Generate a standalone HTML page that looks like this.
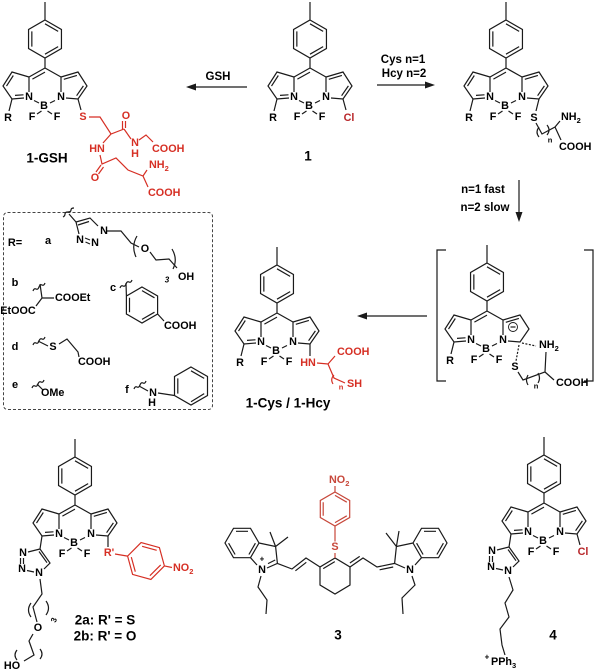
<!DOCTYPE html>
<html><head><meta charset="utf-8">
<style>
html,body{margin:0;padding:0;background:#fff;}
svg{display:block;}
text{font-family:"Liberation Sans",Arial,sans-serif;font-weight:bold;dominant-baseline:central;text-anchor:middle;}
.a{font-size:10.8px;}
.s{text-anchor:start;}
.rd{fill:#d62f24;}
.rb{fill:#c7473a;}
.cl{fill:#b8262a;}
.lab{font-size:13.5px;}
.arl{font-size:11.5px;}
.ln{fill:none;stroke:#1a1a1a;stroke-width:1.2;}
.lr{fill:none;stroke:#d62f24;stroke-width:1.2;}
.lb{fill:none;stroke:#c7473a;stroke-width:1.2;}
</style></head><body>
<svg width="600" height="671" viewBox="0 0 600 671" xmlns="http://www.w3.org/2000/svg">
<defs>
<g id="core" fill="none" stroke="#1a1a1a" stroke-width="1.2">
<path d="M0,-66V-48 M0,-48 L16.45,-38.5 L16.45,-19.5 L0,-10 L-16.45,-19.5 L-16.45,-38.5Z M-13.16,-36.6 L-13.16,-21.4 M0,-44.2 L13.16,-36.6 M13.16,-21.4 L0,-13.8 M0,-10V0 M0,0 L-16,9 M0,4.1 L-12.6,11.1 M0,0 L16,9 M-16,9 V24 M16,9 V24 M-11,32.5 L-6,35 M5,35 L10,32.5 M-3.5,43 L-8,46 M2.5,43 L7,46 M-16,9 L-33,4 L-42,18 L-33,31 L-21,30 M-31.7,7.5 L-38.5,18.1 M-30,27.4 L-21.5,26.8 M16,9 L33,4 L42,18 L33,31 L21,30 M18.8,11.3 L31.9,7.4"/>
</g>
<g id="tri" fill="none" stroke="#1a1a1a" stroke-width="1.2">
<path d="M-33,31 L-35,44 L-25,58 L-31,64 M-36,46.5 L-28,57.7 M-41,67 L-48,65.5 M-54.5,53 V59 M-51.5,53 V59 M-47,47 L-35,44"/>
</g>
</defs>

<!-- ===== Compound 1-GSH (meso 45,68) ===== -->
<use href="#core" transform="translate(45,68)"/>
<path class="ln" d="M83.4,85.9 L76.6,95.7 M12,99 L9,111 M78,99 L81,110"/>
<text class="a" x="29" y="97">N</text><text class="a" x="61" y="97">N</text><text class="a" x="44" y="106">B</text>
<text class="a" x="32" y="117">F</text><text class="a" x="57" y="117">F</text><text class="a" x="8" y="118">R</text>
<text class="a rd" x="83" y="117">S</text>
<path class="lr" d="M89,117 L100,117 L111,134 L124,129 M111,134 L103,143 M124,129 L131,139 M139,140 L146,135 L153,142 M122.5,129 V121 M125.5,128 V121 M100,155 L102,164 L116,158 L128,170 L143,176 L147,170 M143,176 L148,187 M101,165 L96,172 M103.5,167 L98.5,174"/>
<text class="a rd" x="126" y="116">O</text>
<text class="a rd" x="135" y="143">N</text><text class="a rd" x="135" y="154">H</text>
<text class="a rd s" x="152" y="149">COOH</text>
<text class="a rd" x="97" y="149">HN</text>
<text class="a rd" x="95" y="178">O</text>
<text class="a rd s" x="149" y="165">NH<tspan font-size="7.5" dy="3">2</tspan></text>
<text class="a rd s" x="148" y="193">COOH</text>
<text class="lab" x="47" y="158">1-GSH</text>

<!-- GSH arrow -->
<path class="ln" d="M194,87 H247"/>
<polygon points="186,87 196,83.5 196,90.5" fill="#1a1a1a"/>
<text class="arl" x="218" y="77">GSH</text>

<!-- ===== Compound 1 (meso 310,68) ===== -->
<use href="#core" transform="translate(310,68)"/>
<path class="ln" d="M348.4,85.9 L341.6,95.7 M277,99 L274,111 M343,99 L346,110"/>
<text class="a" x="294" y="97">N</text><text class="a" x="326" y="97">N</text><text class="a" x="309" y="106">B</text>
<text class="a" x="297" y="117">F</text><text class="a" x="322" y="117">F</text><text class="a" x="273" y="118">R</text>
<text class="a cl" x="349" y="118">Cl</text>
<text class="lab" x="308" y="156">1</text>

<!-- Cys arrow -->
<path class="ln" d="M377,85 H426"/>
<polygon points="435,85 425,81.5 425,88.5" fill="#1a1a1a"/>
<text class="arl" x="403" y="60">Cys n=1</text>
<text class="arl" x="404" y="74">Hcy n=2</text>

<!-- ===== Cys adduct (meso 506,68) ===== -->
<use href="#core" transform="translate(506,68)"/>
<path class="ln" d="M544.4,85.9 L537.6,95.7 M473,99 L470,111 M539,99 L536,111"/>
<text class="a" x="490" y="97">N</text><text class="a" x="522" y="97">N</text><text class="a" x="505" y="106">B</text>
<text class="a" x="493" y="117">F</text><text class="a" x="518" y="117">F</text><text class="a" x="469" y="118">R</text>
<text class="a" x="534" y="118">S</text>
<path class="ln" d="M536,123 L542,134 L555,127 L560,121 M555,127 L561,140 M539,127 Q535,132 539,137 M547,125 Q551,130 547,135"/>
<text x="550" y="140" font-size="7.5">n</text>
<text class="a s" x="561" y="117">NH<tspan font-size="7.5" dy="3">2</tspan></text>
<text class="a s" x="559" y="147">COOH</text>

<!-- vertical arrow -->
<path class="ln" d="M519,180 V213"/>
<polygon points="519,222 515.5,212 522.5,212" fill="#1a1a1a"/>
<text class="arl" x="483" y="190">n=1 fast</text>
<text class="arl" x="485" y="208">n=2 slow</text>

<!-- ===== Dashed R box ===== -->
<rect x="3.5" y="212.5" width="209" height="197" rx="4" fill="none" stroke="#444" stroke-width="1" stroke-dasharray="3,2"/>
<text x="15" y="243" font-size="11">R=</text>
<text x="48" y="241" font-size="11">a</text>
<!-- a -->
<path class="ln" d="M76,222 L90,218 L98,226 M78,225 L89,221.5 M107,231 L121,231 L131,243 L139,247 M150,252 L156,260 L169,259 L177,268 M79,234 L76,222 M76,222 L69,214 M85,238 L90,240 M85.5,242 L90,244"/>
<path class="ln" d="M63,217 q2,-1 2,-3 t3,-2 t3,-2 t3,-2" />
<path class="ln" d="M137,236 Q131,246 136,257 M172,249 Q178,259 173,269"/>
<text class="a" x="104" y="231">N</text><text class="a" x="95" y="243">N</text><text class="a" x="80" y="240">N</text>
<text class="a" x="145" y="249">O</text>
<text x="167" y="280" font-size="8" font-style="italic">3</text>
<text class="a s" x="178" y="277">OH</text>
<!-- b -->
<text x="15" y="283" font-size="11">b</text>
<path class="ln" d="M42,298 L40,284 M42,298 L54,298 M42,298 L36,306"/>
<path class="ln" d="M33,291 q1,-3 3,-2 t3,-2 t3,-2 t3,-2"/>
<text class="a s" x="55" y="298">COOEt</text>
<text class="a" x="18" y="311">EtOOC</text>
<!-- c -->
<text x="113" y="288" font-size="11">c</text>
<path class="ln" d="M142,287 L157.6,296 L157.6,314 L142,323 L126.4,314 L126.4,296Z M129.5,297.8 L129.5,312.2 M142,290.6 L154.5,297.8 M154.5,312.2 L142,319.4 M126.4,296 L126,283 M157.6,314 L164,321"/>
<path class="ln" d="M120,288 q1,-3 3,-2 t3,-2 t3,-2 t3,-2"/>
<text class="a s" x="164" y="326">COOH</text>
<!-- d -->
<text x="15" y="347" font-size="11">d</text>
<path class="ln" d="M38,341 L48,346 M59,344 L67,339 L78,352 L79,357"/>
<path class="ln" d="M33,345 q1,-3 3,-2 t3,-2 t3,-2 t3,-2"/>
<text class="a" x="53" y="347">S</text>
<text class="a s" x="78" y="362">COOH</text>
<!-- e -->
<text x="15" y="385" font-size="11">e</text>
<path class="ln" d="M37,384 L43,390"/>
<path class="ln" d="M32,388 q1,-3 3,-2 t3,-2 t3,-2 t3,-2"/>
<text class="a s" x="41" y="393">OMe</text>
<!-- f -->
<text x="127" y="390" font-size="11">f</text>
<path class="ln" d="M139,386 L148,391 M158,393 L174.5,395.5 M191,367 L207.5,376.5 L207.5,395.5 L191,405 L174.5,395.5 L174.5,376.5Z M191,370.8 L204.2,378.4 M204.2,393.6 L191,401.8 M177.8,393.6 L177.8,378.4"/>
<path class="ln" d="M134,389 q1,-3 3,-2 t3,-2 t3,-2 t3,-2"/>
<text class="a" x="153" y="393">N</text><text class="a" x="152" y="403">H</text>

<!-- ===== 1-Cys (meso 277,313) ===== -->
<use href="#core" transform="translate(277,313)"/>
<path class="ln" d="M315.4,330.9 L308.6,340.7 M244,344 L241,356 M310,344 L310,356"/>
<text class="a" x="261" y="342">N</text><text class="a" x="293" y="342">N</text><text class="a" x="276" y="351">B</text>
<text class="a" x="264" y="362">F</text><text class="a" x="289" y="362">F</text><text class="a" x="240" y="363">R</text>
<text class="a rd" x="308" y="363">HN</text>
<path class="lr" d="M317,363 L328,364 L335,356 M328,364 L334,378 L345,383 M334,375 Q330,379 333,384"/>
<text class="a rd s" x="337" y="352">COOH</text>
<text class="rd" x="341" y="387" font-size="7.5">n</text>
<text class="a rd s" x="347" y="384">SH</text>
<text class="lab" x="288" y="403">1-Cys / 1-Hcy</text>

<!-- middle arrow -->
<path class="ln" d="M365,316 H427"/>
<polygon points="357,316 367,312.5 367,319.5" fill="#1a1a1a"/>

<!-- ===== Intermediate in brackets (meso 487,311) ===== -->
<path class="ln" d="M446,250 H437 V381 H446 M584,250 H593 V381 H584"/>
<use href="#core" transform="translate(487,311)"/>
<path class="ln" d="M454,342 L451,354"/>
<text class="a" x="471" y="340">N</text><text class="a" x="503" y="340">N</text><text class="a" x="486" y="349">B</text>
<text class="a" x="474" y="360">F</text><text class="a" x="499" y="360">F</text><text class="a" x="450" y="361">R</text>
<circle cx="513" cy="327" r="4.5" fill="#fff" stroke="#1a1a1a" stroke-width="0.9"/>
<path class="ln" d="M510.5,327 H515.5"/>
<path class="ln" stroke-dasharray="2,1.5" d="M522,343 L536,346 M519,345 L516,361"/>
<text class="a s" x="539" y="345">NH<tspan font-size="7.5" dy="3">2</tspan></text>
<text class="a" x="515" y="367">S</text>
<path class="ln" d="M518,372 L523,380 L545,372 L546,352 M545,372 L554,380 M528,375 Q525,380 528,385 M538,373 Q541,378 538,383"/>
<text x="536" y="386" font-size="7.5">n</text>
<text class="a s" x="556" y="383">COOH</text>

<!-- ===== Compound 2 (meso 75,505) ===== -->
<use href="#core" transform="translate(75,505)"/>
<use href="#tri" transform="translate(75,505)"/>
<path class="ln" d="M113.4,522.9 L106.6,532.7 M108,536 L108,547"/>
<text class="a" x="59" y="534">N</text><text class="a" x="91" y="534">N</text><text class="a" x="74" y="543">B</text>
<text class="a" x="62" y="554">F</text><text class="a" x="87" y="554">F</text>
<text class="a" x="39" y="573">N</text><text class="a" x="22" y="569">N</text><text class="a" x="23" y="553">N</text>
<path class="ln" d="M40,579 L42,594 L33,607 L37,622 M31,603 Q26,610 31,617 M46,601 Q51,608 46,615 M33,634 L29,641 L34,655 L24,661 M17,650 Q13,655 17,660 M40,649 Q44,654 40,659"/>
<text x="54" y="620" font-size="8" transform="rotate(-70 54 620)">3</text>
<text class="a" x="38" y="628">O</text>
<text class="a" x="12" y="666">HO</text>
<text class="a rd" x="109" y="553">R'</text>
<path class="lr" d="M115,554 L127.6,556.1 M164.4,565.9 L150.9,579.4 L132.6,574.4 L127.6,556.1 L141.1,542.6 L159.4,547.6 Z M160.7,564.9 L149.9,575.7 M135.3,571.7 L131.3,557.1 M142.1,546.3 L156.7,550.3 M164.4,565.9 L172,567.5"/>
<text class="a rd s" x="173" y="568">NO<tspan font-size="7.5" dy="3">2</tspan></text>
<text class="lab" x="105" y="620">2a: R' = S</text>
<text class="lab" x="105" y="636">2b: R' = O</text>

<!-- ===== Compound 3 ===== -->
<path class="ln" d="M233.5,528.3 L250.5,528.3 L259,543 L250.5,557.7 L233.5,557.7 L225,543 Z M236,531.3 L248,531.3 M235.1,554.5 L228.6,543.2 M255.4,543.2 L248.9,554.5 M259,543 L275.6,546.5 L277.4,563.4 L267,568 M250.5,557.7 L257,565 M275.2,560 L268,563.6 M275.6,546.5 L270,532 M275.6,546.5 L288,537 M261,576 L258,587 L267,600 L266,614 M277.4,563.4 L292,569 L306,558 L320,567 M295.4,570.8 L306.3,562.3 M335,558 L320,567 L320,585 L335,594 L350,585 L350,567 Z M334.8,561.6 L323.2,568.6 M350,567 L363,558 L377,567 L394.6,563.4 M349.9,563 L359.7,556.4 M379.6,569.8 L393.2,567 M421.5,528.3 L438.5,528.3 L447,543 L438.5,557.7 L421.5,557.7 L413,543 Z M424,531.3 L436,531.3 M436.9,554.5 L443.4,543.2 M416.6,543.2 L423.1,554.5 M413,543 L396.4,546.5 L394.6,563.4 L405,568 M421.5,557.7 L415,565 M396.4,546.5 L386,533 M396.4,546.5 L399,531 M412,576 L415,585 L402,598 L403,614"/>
<path class="lb" d="M335,558 V553 M335,541.5 V526 M335,492 L349.7,500.5 L349.7,517.5 L335,526 L320.3,517.5 L320.3,500.5 Z M323.2,502.2 L323.2,515.8 M335,495.4 L346.8,502.2 M346.8,515.8 L335,522.6 M335,492 V486"/>
<text class="a" x="262" y="570">N</text>
<text x="262" y="559" font-size="8">+</text>
<text class="a" x="410" y="570">N</text>
<text class="a rb" x="335" y="547">S</text>
<text class="a rb s" x="329" y="480">NO<tspan font-size="7.5" dy="3">2</tspan></text>
<text class="lab" x="338" y="635">3</text>

<!-- ===== Compound 4 (meso 544,503) ===== -->
<use href="#core" transform="translate(544,503)"/>
<use href="#tri" transform="translate(544,503)"/>
<path class="ln" d="M582.4,520.9 L575.6,530.7 M577,534 L580,545"/>
<text class="a" x="528" y="532">N</text><text class="a" x="560" y="532">N</text><text class="a" x="543" y="541">B</text>
<text class="a" x="531" y="552">F</text><text class="a" x="556" y="552">F</text>
<text class="a cl" x="583" y="552">Cl</text>
<text class="a" x="508" y="571">N</text><text class="a" x="491" y="567">N</text><text class="a" x="492" y="551">N</text>
<path class="ln" d="M509,577 L513,590 L505,603 L509,617 L500,629 L502,645 L505,655"/>
<text x="487" y="657" font-size="8">+</text>
<text class="a s" x="491" y="662">PPh<tspan font-size="7.5" dy="3">3</tspan></text>
<text class="lab" x="553" y="635">4</text>
</svg>
</body></html>
